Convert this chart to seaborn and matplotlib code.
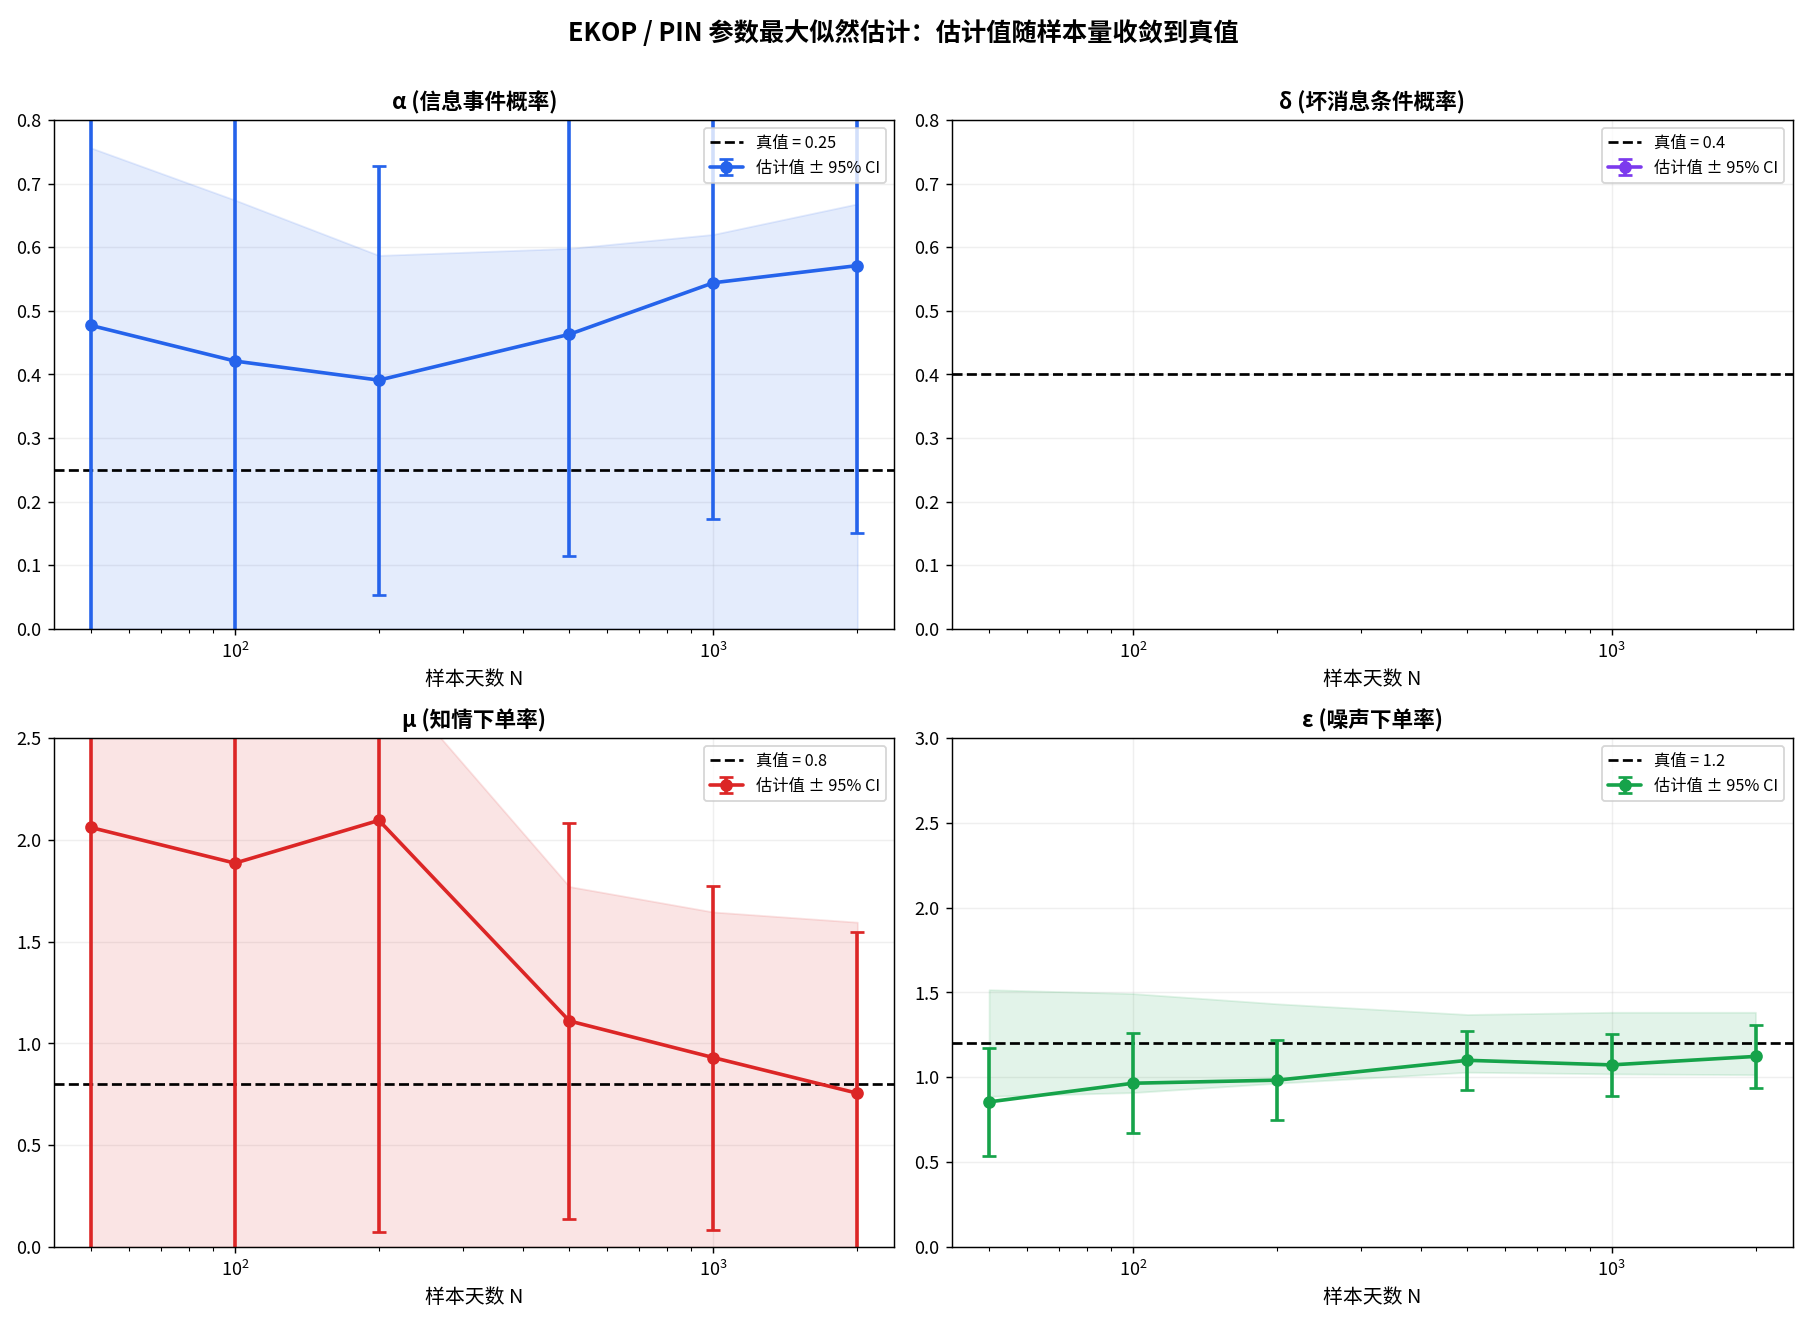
import numpy as np
import matplotlib
matplotlib.use('Agg')
import matplotlib.pyplot as plt
import seaborn as sns

# sample sizes (days)
n_days = [50, 100, 200, 500, 1000, 2000]

# alpha
alpha_true = 0.25
alpha_est = [0.477, 0.421, 0.391, 0.463, 0.544, 0.571]
alpha_err = [0.60, 0.55, 0.337, 0.348, 0.371, 0.420]
alpha_lo = [0.0, 0.0, 0.0, 0.0, 0.0, 0.0]
alpha_hi = [0.756, 0.674, 0.587, 0.598, 0.620, 0.668]

# delta (no valid estimates)
delta_true = 0.4
delta_est = [np.nan] * 6
delta_err = [np.nan] * 6
delta_lo = [np.nan] * 6
delta_hi = [np.nan] * 6

# mu
mu_true = 0.8
mu_est = [2.06, 1.885, 2.095, 1.11, 0.93, 0.755]
mu_err = [2.5, 2.2, 2.02, 0.973, 0.845, 0.79]
mu_lo = [0.0, 0.0, 0.0, 0.0, 0.0, 0.0]
mu_hi = [3.5, 3.1, 2.85, 1.77, 1.645, 1.595]

# epsilon
eps_true = 1.2
eps_est = [0.855, 0.965, 0.983, 1.10, 1.073, 1.123]
eps_err = [0.318, 0.293, 0.235, 0.174, 0.184, 0.187]
eps_lo = [0.888, 0.910, 0.965, 1.030, 1.020, 1.015]
eps_hi = [1.516, 1.493, 1.433, 1.370, 1.383, 1.383]

panels = [
    ('α (信息事件概率)', alpha_true, alpha_est, alpha_err, alpha_lo, alpha_hi, '#2563eb', (0, 0.8)),
    ('δ (坏消息条件概率)', delta_true, delta_est, delta_err, delta_lo, delta_hi, '#7c3aed', (0, 0.8)),
    ('μ (知情下单率)', mu_true, mu_est, mu_err, mu_lo, mu_hi, '#dc2626', (0, 2.5)),
    ('ε (噪声下单率)', eps_true, eps_est, eps_err, eps_lo, eps_hi, '#16a34a', (0, 3.0)),
]

sns.set_style('ticks', rc={'axes.edgecolor': 'black', 'text.color': 'black',
                           'axes.labelcolor': 'black', 'xtick.color': 'black',
                           'ytick.color': 'black'})
plt.rcParams['font.family'] = ['Noto Sans CJK SC', 'DejaVu Sans']
plt.rcParams['axes.unicode_minus'] = False

fig, axes = plt.subplots(2, 2, figsize=(13.9, 10.1475), dpi=130)
fig.subplots_adjust(left=0.030, right=0.992, top=0.909, bottom=0.0546, wspace=0.069, hspace=0.214)

for ax, (title, true_v, est, err, lo, hi, color, ylim) in zip(axes.flat, panels):
    ax.fill_between(n_days, lo, hi, color=color, alpha=0.12)
    ax.axhline(true_v, color='black', linestyle='--', linewidth=1.5, label=f'真值 = {true_v}')
    ax.errorbar(n_days, est, yerr=err, color=color, marker='o', markersize=6,
                linewidth=2, elinewidth=2, capsize=4, capthick=1.5, label='估计值 ± 95% CI')
    ax.set_xscale('log')
    ax.set_xlim(41.9, 2390)
    ax.set_ylim(*ylim)
    ax.set_title(title, fontsize=12, fontweight='bold')
    ax.set_xlabel('样本天数 N', fontsize=11)
    ax.grid(True, alpha=0.3)
    ax.tick_params(labelsize=10)
    ax.legend(loc='upper right', fontsize=9)

fig.suptitle('EKOP / PIN 参数最大似然估计：估计值随样本量收敛到真值', fontsize=14, fontweight='bold', y=0.985)
fig.savefig('out.png', dpi=130)
